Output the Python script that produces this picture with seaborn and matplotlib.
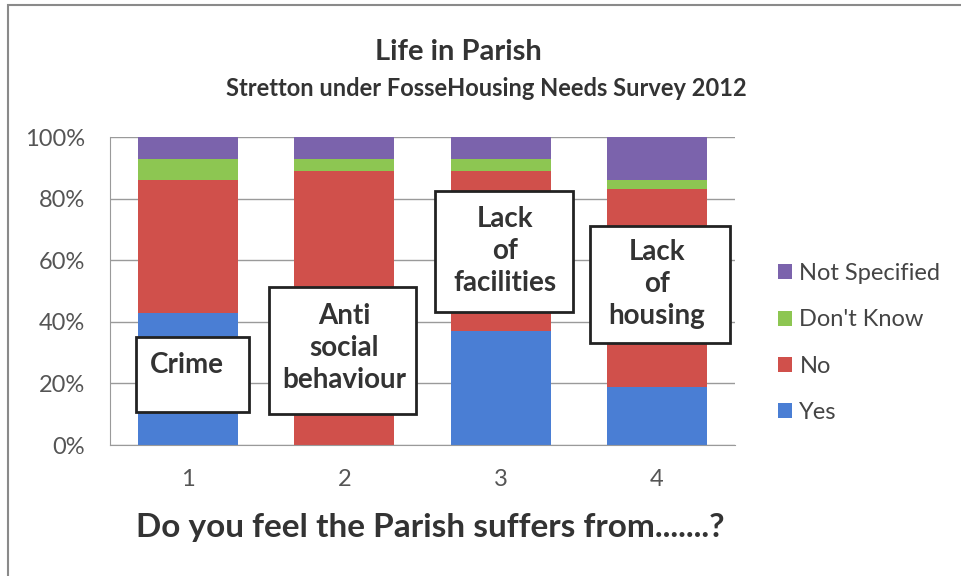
import matplotlib
matplotlib.use("Agg")
import matplotlib.pyplot as plt
from matplotlib.patches import Rectangle
import pandas as pd
import seaborn as sns

questions = [1, 2, 3, 4]
yes = [43, 0, 37, 19]
no = [43, 89, 52, 64]
dont_know = [7, 4, 4, 3]
not_specified = [7, 7, 7, 14]

responses = ["Not Specified", "Don't Know", "No", "Yes"]
colors = ["#7B63AC", "#8DC652", "#D0504B", "#4A7ED4"]

box_labels = ["Crime", "Anti\nsocial\nbehaviour", "Lack\nof\nfacilities", "Lack\nof\nhousing"]

title = "Life in Parish"
subtitle = "Stretton under FosseHousing Needs Survey 2012"
xlabel = "Do you feel the Parish suffers from.......?"

rows = []
for i, q in enumerate(questions):
    rows.append((q, "Yes", yes[i]))
    rows.append((q, "No", no[i]))
    rows.append((q, "Don't Know", dont_know[i]))
    rows.append((q, "Not Specified", not_specified[i]))
df = pd.DataFrame(rows, columns=["question", "response", "pct"])

sns.set_style("white")
plt.rcParams["font.family"] = ["Lato", "DejaVu Sans"]

fig = plt.figure(figsize=(9.61, 5.76), dpi=100)
ax = fig.add_axes([0.1145, 0.2274, 0.6504, 0.5347])

sns.histplot(data=df, x="question", weights="pct", hue="response",
             hue_order=responses, palette=colors, multiple="stack",
             discrete=True, shrink=0.64, alpha=1, linewidth=0, ax=ax)

ax.set_xlim(0.5, 4.5)
ax.set_ylim(0, 100)
ax.set_yticks(range(0, 101, 20))
ax.set_yticklabels([f"{v}%" for v in range(0, 101, 20)], fontsize=17, color="#555555")
ax.set_xticks(questions)
ax.set_xticklabels([str(q) for q in questions], fontsize=17, color="#555555")
ax.tick_params(axis="both", length=0)
ax.tick_params(axis="x", pad=17)
ax.tick_params(axis="y", pad=18)
ax.yaxis.grid(True, color="#9a9a9a", linewidth=1)
ax.set_axisbelow(True)
for s in ["top", "right"]:
    ax.spines[s].set_visible(False)
ax.spines["left"].set_color("#9a9a9a")
ax.spines["bottom"].set_color("#9a9a9a")
ax.set_ylabel("")
ax.set_xlabel("")

# annotation boxes (x0, x1, y0, y1 in data units) and text centre
boxes = [(0.667, 1.391, 10.7, 35.0, 0.99, 26.0),
         (1.519, 2.455, 10.0, 51.3, 2.0, 31.5),
         (2.577, 3.462, 43.2, 82.5, 3.03, 63.0),
         (3.571, 4.468, 33.1, 71.1, 4.0, 52.3)]
for (x0, x1, y0, y1, tx, ty), lab in zip(boxes, box_labels):
    ax.add_patch(Rectangle((x0, y0), x1 - x0, y1 - y0, facecolor="white",
                           edgecolor="#222222", linewidth=2, zorder=5))
    ax.text(tx, ty, lab, ha="center", va="center", fontsize=20,
            fontweight="bold", color="#333333", linespacing=1.28, zorder=6)

sns.move_legend(ax, "center left", bbox_to_anchor=(1.035, 0.331), frameon=False,
                title=None, fontsize=17, handlelength=0.6, handleheight=0.6,
                handletextpad=0.3, labelspacing=1.07, labelcolor="#444444")

fig.text(458 / 961, 1 - 52 / 576, title, ha="center", va="center",
         fontsize=21, fontweight="bold", color="#333333")
fig.text(486 / 961, 1 - 88 / 576, subtitle, ha="center", va="center",
         fontsize=17, fontweight="bold", color="#333333")
fig.text(430 / 961, 1 - 528 / 576, xlabel, ha="center", va="center",
         fontsize=24, fontweight="bold", color="#333333")

fig.patches.append(Rectangle((8 / 961, -0.1), 1.2, 1.1 - 5 / 576,
                             transform=fig.transFigure, fill=False,
                             edgecolor="#8a8a8a", linewidth=1.5))

fig.savefig("out.png", dpi=100)
